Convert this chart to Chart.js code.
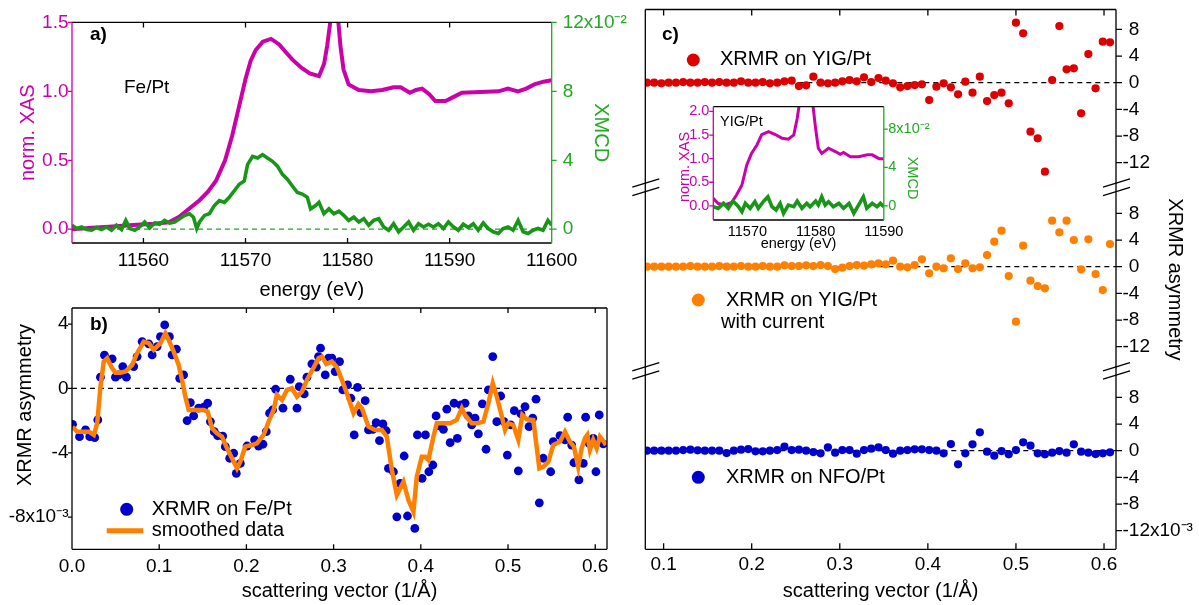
<!DOCTYPE html>
<html>
<head>
<meta charset="utf-8">
<script src="https://cdn.jsdelivr.net/npm/chart.js@4.4.1/dist/chart.umd.min.js"></script>
<style>
  html, body { margin: 0; padding: 0; background: #fff; }
  #wrap { position: relative; width: 1199px; height: 605px; overflow: hidden; }
  #wrap canvas { position: absolute; left: 0; top: 0; }
</style>
</head>
<body>
<div id="wrap">
  <canvas id="chartA" width="1199" height="605"></canvas>
  <canvas id="chartB" width="1199" height="605"></canvas>
  <canvas id="chartC" width="1199" height="605"></canvas>
  <canvas id="chartInset" width="1199" height="605"></canvas>
</div>
<script>
// ---- panel a: Fe/Pt XAS (norm.) and XMCD (x10^-2) ----
const xasEnergy = [11553, 11555, 11557, 11559, 11561, 11562.5, 11563.5, 11564.5, 11565.5, 11566.3, 11567.1, 11568, 11568.7, 11569.4, 11570, 11570.5, 11571, 11571.7, 11572.5, 11573.3, 11574, 11574.6, 11575.5, 11576.3, 11577.2, 11577.7, 11578, 11578.3, 11578.7, 11579.1, 11579.3, 11579.6, 11580.1, 11581.1, 11582.3, 11583.4, 11584.5, 11585.2, 11586.1, 11586.7, 11587.3, 11588, 11588.6, 11589.6, 11590.4, 11591.2, 11593, 11594.8, 11595.7, 11596.7, 11597.5, 11598.3, 11599.2, 11600];
const xasFe = [0, 0.01, 0.02, 0.03, 0.04, 0.05, 0.09, 0.15, 0.21, 0.27, 0.35, 0.5, 0.68, 0.9, 1.09, 1.22, 1.3, 1.36, 1.38, 1.34, 1.28, 1.23, 1.17, 1.13, 1.11, 1.2, 1.33, 1.5, 2.4, 1.5, 1.33, 1.16, 1.05, 1.01, 1, 1.01, 1.03, 1.03, 0.99, 1.01, 1.02, 0.98, 0.93, 0.93, 0.96, 0.99, 0.995, 1, 1.02, 1, 1.02, 1.05, 1.07, 1.08];
const xmcdEnergy = [11553, 11553.46, 11553.95, 11554.43, 11554.92, 11555.41, 11555.9, 11556.38, 11556.87, 11557.36, 11557.85, 11558.27, 11558.66, 11559.15, 11559.63, 11560.12, 11560.61, 11561.1, 11561.59, 11562.07, 11562.56, 11563.05, 11563.54, 11564.02, 11564.51, 11564.9, 11565.22, 11565.49, 11565.98, 11566.46, 11566.95, 11567.44, 11567.93, 11568.41, 11568.9, 11569.39, 11569.88, 11570.2, 11570.69, 11571.18, 11571.67, 11572.15, 11572.64, 11573.13, 11573.62, 11574.1, 11574.59, 11575.08, 11575.57, 11576.06, 11576.38, 11576.87, 11577.2, 11577.68, 11578.17, 11578.66, 11579.15, 11579.63, 11580.12, 11580.61, 11581.1, 11581.59, 11582.07, 11582.56, 11583.05, 11583.54, 11584.02, 11584.51, 11585, 11585.49, 11585.98, 11586.46, 11586.95, 11587.44, 11587.93, 11588.41, 11588.9, 11589.39, 11589.88, 11590.37, 11590.85, 11591.34, 11591.83, 11592.32, 11592.8, 11593.29, 11593.78, 11594.27, 11594.76, 11595.24, 11595.73, 11596.22, 11596.71, 11597.2, 11597.68, 11598.17, 11598.66, 11599.15, 11599.63, 11600];
const xmcdFe = [0.23, 0.04, 0.13, -0.02, -0.06, 0.1, -0.02, 0.13, -0.06, 0.23, -0.02, 0.51, 0.04, -0.06, 0.13, 0.42, 0.08, 0.36, 0.29, 0.51, 0.36, 0.42, 0.61, 0.8, 0.9, 0.7, 0.04, 0.42, 0.8, 0.9, 1.37, 1.66, 1.56, 1.85, 2.23, 2.61, 2.8, 3.75, 4.23, 4.13, 4.33, 4.13, 3.94, 3.66, 3.18, 2.9, 2.51, 2.13, 2.04, 1.85, 1.18, 1.37, 1.56, 0.9, 1.18, 0.9, 1.05, 0.8, 0.51, 0.7, 0.42, 0.61, 0.23, 0.51, 0.61, 0.13, -0.06, 0.32, -0.15, 0.13, 0.42, -0.06, 0.32, 0.13, 0.29, 0.13, 0.32, 0.04, 0.42, 0.13, -0.06, 0.29, 0.1, 0.32, -0.06, 0.36, 0.04, -0.15, -0.25, 0.04, 0.13, -0.06, 0.51, -0.15, -0.25, -0.06, 0.04, -0.06, 0.51, 0.23];

// ---- panel b: XRMR asymmetry on Fe/Pt (x10^-3) ----
const feQ = [0.0006, 0.0086, 0.0155, 0.0204, 0.026, 0.0296, 0.0326, 0.0372, 0.046, 0.0498, 0.0536, 0.0582, 0.0624, 0.0708, 0.0747, 0.0804, 0.088, 0.0919, 0.0976, 0.1014, 0.1063, 0.1117, 0.1148, 0.1197, 0.1235, 0.128, 0.132, 0.1357, 0.1395, 0.1452, 0.151, 0.1556, 0.1587, 0.1632, 0.167, 0.1728, 0.1758, 0.1808, 0.1854, 0.1884, 0.193, 0.2007, 0.2094, 0.214, 0.219, 0.2228, 0.2266, 0.23, 0.2335, 0.2419, 0.2503, 0.258, 0.2606, 0.2663, 0.2694, 0.2751, 0.2801, 0.2827, 0.285, 0.2904, 0.2942, 0.298, 0.3018, 0.3068, 0.3106, 0.316, 0.3198, 0.3236, 0.3274, 0.3313, 0.3362, 0.34, 0.345, 0.3488, 0.3526, 0.3565, 0.3603, 0.3629, 0.3686, 0.3725, 0.3763, 0.3809, 0.3847, 0.3931, 0.3961, 0.4015, 0.4053, 0.4092, 0.4138, 0.4175, 0.4213, 0.4259, 0.4298, 0.4336, 0.4381, 0.4419, 0.4458, 0.4507, 0.4545, 0.4584, 0.4622, 0.466, 0.4706, 0.4748, 0.4775, 0.4825, 0.4871, 0.4916, 0.4954, 0.4992, 0.5031, 0.5072, 0.5118, 0.5149, 0.5195, 0.5241, 0.5283, 0.5321, 0.5359, 0.5404, 0.5489, 0.5519, 0.5596, 0.5653, 0.5684, 0.573, 0.5756, 0.5813, 0.5863, 0.589, 0.5931, 0.5977, 0.6008, 0.6046, 0.6092];
const feAsym = [-2.23, -3, -2.58, -3, -3.06, -1.96, 0.7, 2.07, 1.84, 0.7, 0.84, 1.36, 0.7, 1.36, 1.98, 2.91, 2.77, 2.08, 2.6, 3.22, 3.95, 3.22, 2.08, 2.44, 0.63, 0.84, -2, -0.88, -1.71, -1.23, -1.17, -0.92, -2.06, -2.69, -2.94, -2.96, -3.62, -4.34, -4.03, -5.28, -4.66, -3.58, -3.2, -3.58, -3.47, -2.69, -1.54, -1.34, -0.05, -1.23, 0.57, -1.23, 0.11, -0.34, 0.7, 1.52, 1.32, 1.98, 2.5, 0.84, 1.88, 1.88, 1.05, 1.67, -0.09, 0.22, -0.61, -2.89, 0.07, -1.5, -0.76, -2.58, -2.54, -2.13, -3.25, -2.21, -2.63, -4.97, -5.18, -7.98, -5.9, -4.2, -7.93, -8.7, -2.89, -5.59, -2.89, -5.18, -4.76, -1.71, -2.33, -2.54, -1.29, -3.37, -0.92, -3.1, -1.03, -0.92, -1.71, -2.27, -1.85, -2.83, -0.96, -3.78, -0.09, 1.98, -2.07, -0.47, -2.07, -4.14, -2.27, -1.38, -5.12, -1.59, -1.13, -2.38, -1.85, -0.67, -7.11, -4.34, -5.18, -3.31, -2.94, -3.2, -1.79, -3.52, -4.62, -5.69, -4.66, -1.79, -3.41, -3.1, -5.18, -1.65, -3.45];
const smoothQ = [0.0006, 0.006, 0.0135, 0.0193, 0.025, 0.0289, 0.0326, 0.0364, 0.0403, 0.046, 0.0498, 0.0556, 0.0613, 0.069, 0.0747, 0.0822, 0.088, 0.0937, 0.1014, 0.1071, 0.1109, 0.1166, 0.1223, 0.1262, 0.13, 0.1338, 0.1395, 0.151, 0.1556, 0.1606, 0.1663, 0.172, 0.1778, 0.1835, 0.1892, 0.193, 0.1987, 0.2064, 0.2121, 0.2197, 0.2254, 0.2312, 0.235, 0.2408, 0.2465, 0.2522, 0.258, 0.2637, 0.2694, 0.2751, 0.2827, 0.2866, 0.2915, 0.298, 0.3038, 0.3095, 0.3152, 0.3228, 0.3285, 0.3324, 0.34, 0.3477, 0.3553, 0.361, 0.3668, 0.3725, 0.3801, 0.3858, 0.3915, 0.3954, 0.4011, 0.4049, 0.4087, 0.4144, 0.4183, 0.4259, 0.4336, 0.4412, 0.447, 0.4507, 0.4584, 0.4641, 0.4717, 0.4775, 0.4825, 0.4871, 0.492, 0.4966, 0.5003, 0.5061, 0.5118, 0.5164, 0.5214, 0.529, 0.5359, 0.5404, 0.5462, 0.5519, 0.5596, 0.5653, 0.571, 0.5756, 0.5805, 0.5844, 0.5882, 0.5909, 0.5939, 0.5977, 0.6016, 0.6054, 0.6099, 0.6122];
const smoothAsym = [-2.38, -2.69, -2.69, -2.69, -2.89, -2.17, 0.11, 1.67, 1.88, 1.26, 0.98, 0.98, 1.05, 1.46, 2.19, 2.91, 2.81, 2.4, 2.81, 3.43, 3.02, 2.29, 1.46, 0.53, -0.51, -1.34, -1.34, -1.34, -1.44, -2.48, -2.79, -3, -3.72, -4.34, -4.97, -4.56, -3.62, -3.52, -3.41, -2.89, -2.07, -1.34, -0.4, -0.72, -0.09, 0.01, -0.51, -0.2, 0.53, 1.1, 1.88, 1.98, 1.52, 1.67, 1.32, 0.53, -0.3, -1.54, -0.98, -1.23, -2.38, -2.58, -2.58, -3, -5.07, -6.63, -5.8, -6.94, -7.67, -5.49, -4.24, -4.24, -4.45, -3, -2.17, -2.17, -2.17, -1.96, -1.23, -1.65, -2.17, -2.17, -2.07, -0.92, 0.32, -0.51, -1.54, -2.58, -2.17, -2.27, -3.2, -1.65, -1.92, -1.96, -4.97, -4.87, -4.56, -3.52, -3.31, -2.69, -3.31, -3.62, -4.87, -3.72, -3.1, -2.89, -3.83, -3.2, -3.72, -3, -3.31, -3.52];

// ---- panel c: XRMR asymmetry (x10^-3) on a common q grid ----
const qGrid = [0.0811, 0.0893, 0.0975, 0.1057, 0.114, 0.1222, 0.1304, 0.1386, 0.1468, 0.155, 0.1632, 0.1715, 0.1797, 0.1879, 0.1961, 0.2043, 0.2125, 0.2207, 0.229, 0.2372, 0.2454, 0.2536, 0.2618, 0.27, 0.2782, 0.2865, 0.2947, 0.3029, 0.3111, 0.3193, 0.3275, 0.3357, 0.344, 0.3522, 0.3604, 0.3686, 0.3768, 0.385, 0.3932, 0.4015, 0.4097, 0.4179, 0.4261, 0.4343, 0.4425, 0.4507, 0.459, 0.4672, 0.4754, 0.4836, 0.4918, 0.5, 0.5082, 0.5165, 0.5247, 0.5329, 0.5411, 0.5493, 0.5575, 0.5657, 0.574, 0.5822, 0.5904, 0.5986, 0.6068];
const yigAsym = [0, 0, -0.1, 0, 0, 0.1, 0, 0, 0.1, 0, 0.1, 0, 0, 0.2, 0, 0, 0.1, -0.1, 0, 0.2, 0.3, -0.5, -0.4, 0.9, 0, -0.1, 0, 0.2, 0.4, 0.2, 0.8, 0.1, 0.7, 0.3, -0.1, -0.69, -0.5, -0.35, -0.25, -2.6, -0.6, -0.1, -0.69, -1.74, 0.15, -1.5, 0.9, -2.75, -1.85, -1.5, -3.1, 9, 7.4, -7.35, -8.35, -13.35, 0.4, 8.5, 2, 2.15, -4.6, 4.3, -0.84, 6.15, 6.05];
const yigCurrentAsym = [0, 0, 0, 0, 0, 0, 0.1, 0, 0, 0, 0.1, 0, 0, 0.1, 0, 0, 0.1, 0, 0, 0.2, 0.1, 0.1, 0.2, 0.1, 0.25, 0.1, -0.35, -0.15, 0.1, 0.25, 0.15, 0.35, 0.5, 0.35, 0.9, 0, -0.1, 0.25, 1.1, -1, 0, -0.25, 1.25, -0.35, 0.5, -0.25, -0.1, 1.75, 3.75, 5.4, -1.4, -8.25, 3.15, -2.1, -2.9, -3.25, 6.9, 5.15, 6.9, 4, -0.4, 4.1, -1.1, -3.5, 3.4];
const nfoAsym = [0, 0, 0, 0, 0, 0.1, 0.15, 0.05, 0, 0, 0, -0.35, 0, 0.15, 0.25, -0.1, -0.1, 0, 0.1, 0.6, 0.1, 0.15, 0, -0.2, -0.4, 0.5, -0.3, 0.1, 0.1, -0.45, 0.1, 0.3, 0.5, 0.1, -0.45, 0, 0.1, 0.2, 0.2, 0.1, 0, -0.4, 1, -2.05, -0.4, 0.95, 2.75, -0.15, -0.75, -0.05, -0.55, 0.1, 1.25, 0.75, -0.4, -0.55, -0.3, -0.05, -0.3, 0.95, -0.15, -0.3, -0.5, -0.4, -0.25];

// ---- inset: YIG/Pt XAS and XMCD (x10^-2) ----
const insetXasEnergy = [11565, 11565.7, 11566.7, 11567.7, 11568.4, 11569.2, 11569.9, 11570.6, 11571.4, 11572.1, 11573.1, 11574.1, 11575.1, 11576, 11576.8, 11577.3, 11577.6, 11578.6, 11579.6, 11580, 11580.4, 11580.9, 11581.9, 11582.9, 11583.6, 11584.1, 11585.1, 11586.3, 11587.6, 11588.3, 11589.3, 11590];
const insetXas = [0.16, 0.05, 0.02, 0.07, 0.23, 0.44, 0.86, 1.11, 1.29, 1.51, 1.57, 1.51, 1.43, 1.41, 1.5, 1.85, 2.14, 3.2, 2.14, 1.64, 1.22, 1.11, 1.22, 1.15, 1.09, 1.13, 1.04, 1.04, 1.08, 1.08, 1, 1];
const insetXmcdEnergy = [11565, 11565.7, 11566.5, 11567.2, 11567.9, 11568.7, 11569.2, 11569.7, 11570.4, 11571.1, 11571.6, 11572.4, 11573, 11573.6, 11574.2, 11574.8, 11575.3, 11576, 11576.8, 11577.3, 11578, 11578.7, 11579.2, 11580, 11580.4, 11580.9, 11581.4, 11581.9, 11582.6, 11583.4, 11584.1, 11584.9, 11585.6, 11586.3, 11587, 11587.5, 11588.3, 11589, 11589.5, 11590];
const insetXmcd = [-0.09, -0.26, 0.26, -0.26, 0.5, -0.09, -0.61, 0.26, -0.26, 0.43, -0.26, 0.5, 0.95, -0.09, -0.43, 0.26, -0.78, 0.08, -0.09, 0.5, -0.26, 0.26, -0.09, 0.5, 0.08, 0.95, 0.08, 0.43, -0.09, 0.26, -0.26, 0.26, -0.78, 0.08, 0.95, -0.26, 0.26, -0.09, 0.26, -0.09];

// ---- tick values ----
const aEnergyTicks = [11560, 11570, 11580, 11590, 11600];
const aXasTicks = [0, 0.5, 1, 1.5];
const aXmcdTicks = [0, 4, 8, 12];
const qTicks = [0, 0.1, 0.2, 0.3, 0.4, 0.5, 0.6];
const bAsymTicks = [4, 0, -4, -8];
const cAsymTicks = [8, 4, 0, -4, -8, -12];
const insetEnergyTicks = [11570, 11580, 11590];
const insetXasTicks = [0, 0.5, 1, 1.5, 2];
const insetXmcdTicks = [0, 4, 8];

const FONT = "'Liberation Sans', Arial, Helvetica, sans-serif";
const MAGENTA = '#cc00aa';
const GREEN_LINE = '#179617';
const GREEN_TEXT = '#22a822';
const RED = '#dd0000';
const ORANGE = '#ff8000';
const BLUE = '#0000cc';

// panel c: the three traces sit on one axis, shifted apart (x10^-3)
const MID_SHIFT = 27.6;
const TOP_SHIFT = 55.2;

Chart.defaults.font.family = FONT;
Chart.defaults.color = '#000';

const xy = (xs, ys, shift = 0) => xs.map((x, i) => ({ x, y: ys[i] + shift }));
const fixedSize = size => scale => {
  if (scale.isHorizontal()) scale.height = size; else scale.width = size;
};
const useTicks = values => scale => { scale.ticks = values.map(value => ({ value })); };
const font = size => ({ family: FONT, size });
const noGrid = { display: false, drawTicks: false };

// frame, tick marks, dashed zero lines, legends and notes drawn on the canvas
function decoPlugin(cfg) {
  return {
    id: 'deco',
    beforeDatasetsDraw(chart) {
      const { ctx, chartArea: area } = chart;
      ctx.save();
      for (const z of cfg.zeroLines || []) {
        const y = chart.scales[z.scale].getPixelForValue(z.value);
        ctx.strokeStyle = z.color;
        ctx.lineWidth = 1.2;
        ctx.setLineDash([5, 4]);
        ctx.beginPath();
        ctx.moveTo(area.left, y);
        ctx.lineTo(area.right, y);
        ctx.stroke();
      }
      ctx.restore();
    },
    afterDraw(chart) {
      const { ctx, chartArea: area } = chart;
      ctx.save();
      ctx.setLineDash([]);
      for (const s of cfg.sides || []) {
        const vertical = s.edge === 'left' || s.edge === 'right';
        const at = area[s.edge];
        const inward = { top: 1, bottom: -1, left: 1, right: -1 }[s.edge];
        const sign = s.out ? -inward : inward;
        ctx.strokeStyle = s.color;
        ctx.lineWidth = 1.3;
        ctx.beginPath();
        if (vertical) { ctx.moveTo(at, area.top); ctx.lineTo(at, area.bottom); }
        else { ctx.moveTo(area.left, at); ctx.lineTo(area.right, at); }
        for (const v of s.ticks || []) {
          const p = chart.scales[s.scale].getPixelForValue(v);
          if (vertical) { ctx.moveTo(at, p); ctx.lineTo(at + sign * s.len, p); }
          else { ctx.moveTo(p, at); ctx.lineTo(p, at + sign * s.len); }
        }
        ctx.stroke();
      }
      for (const b of cfg.breaks || []) {
        const y = chart.scales[b.scale].getPixelForValue(b.value);
        const x = area[b.edge];
        ctx.strokeStyle = '#000';
        ctx.lineWidth = 1.3;
        ctx.beginPath();
        for (const o of [-4.2, 4.2]) {
          ctx.moveTo(x - 13, y + o + 4);
          ctx.lineTo(x + 14, y + o - 4.3);
        }
        ctx.stroke();
      }
      for (const m of cfg.markers || []) {
        ctx.fillStyle = m.color;
        ctx.strokeStyle = m.color;
        ctx.beginPath();
        if (m.r) {
          ctx.arc(m.x, m.y, m.r, 0, Math.PI * 2);
          ctx.fill();
        } else {
          ctx.lineWidth = m.w;
          ctx.moveTo(m.x1, m.y);
          ctx.lineTo(m.x2, m.y);
          ctx.stroke();
        }
      }
      ctx.textBaseline = 'middle';
      for (const t of cfg.texts || []) {
        ctx.save();
        ctx.font = t.font;
        ctx.fillStyle = t.color || '#000';
        ctx.textAlign = t.align || 'left';
        ctx.translate(t.x, t.y);
        if (t.rot) ctx.rotate(t.rot);
        ctx.fillText(t.text, 0, 0);
        ctx.restore();
      }
      // right-hand labels of panel c: numbers line up as if every one had a minus sign
      for (const l of cfg.axisLabels || []) {
        const y = chart.scales[l.scale].getPixelForValue(l.value);
        ctx.font = l.font;
        ctx.fillStyle = '#000';
        ctx.textAlign = 'left';
        const shift = l.text.startsWith('-') ? 0 : ctx.measureText('-').width;
        ctx.fillText(l.text, l.x + shift, y);
      }
      ctx.restore();
    }
  };
}

const baseOptions = padding => ({
  responsive: false,
  animation: false,
  events: [],
  layout: { padding },
  plugins: { legend: { display: false }, tooltip: { enabled: false } },
});

// ---------------- panel a ----------------
new Chart(document.getElementById('chartA'), {
  type: 'scatter',
  data: {
    datasets: [
      { data: xy(xmcdEnergy, xmcdFe), yAxisID: 'y2', showLine: true, borderColor: GREEN_LINE, borderWidth: 3.6, pointRadius: 0 },
      { data: xy(xasEnergy, xasFe), yAxisID: 'y', showLine: true, borderColor: MAGENTA, borderWidth: 4, pointRadius: 0, clip: 0 },
    ],
  },
  options: {
    ...baseOptions({ left: 0, top: 18, right: 557.3, bottom: 300 }),
    scales: {
      x: {
        type: 'linear', min: 11553, max: 11600,
        afterFit: fixedSize(62), afterBuildTicks: useTicks(aEnergyTicks),
        grid: noGrid, border: { display: false },
        ticks: { padding: 6, autoSkip: false, maxRotation: 0, font: font(19), color: '#000', callback: v => String(v) },
        title: { display: true, text: 'energy (eV)', font: font(20), color: '#000', padding: { top: 0, bottom: 3 } },
      },
      y: {
        type: 'linear', position: 'left', min: -0.1, max: 1.5,
        afterFit: fixedSize(72), afterBuildTicks: useTicks(aXasTicks),
        grid: noGrid, border: { display: false },
        ticks: { padding: 3.5, font: font(19), color: MAGENTA, callback: v => v.toFixed(1) },
        title: { display: true, text: 'norm. XAS', font: font(20), color: MAGENTA, padding: { top: 16, bottom: 0 } },
      },
      y2: {
        type: 'linear', position: 'right', min: -0.8, max: 12,
        afterFit: fixedSize(90), afterBuildTicks: useTicks(aXmcdTicks),
        grid: noGrid, border: { display: false },
        ticks: { padding: 11, font: font(19), color: GREEN_TEXT, callback: v => (v === 12 ? '12x10⁻²' : String(v)) },
        title: { display: true, text: 'XMCD', font: font(20), color: GREEN_TEXT, padding: { top: 29, bottom: 0 } },
      },
    },
  },
  plugins: [decoPlugin({
    zeroLines: [{ scale: 'y2', value: 0, color: GREEN_TEXT }],
    sides: [
      { edge: 'top', color: '#000', scale: 'x', ticks: [11560, 11570, 11580, 11590], len: 5 },
      { edge: 'bottom', color: '#000', scale: 'x', ticks: [11560, 11570, 11580, 11590], len: 5 },
      { edge: 'left', color: MAGENTA, scale: 'y', ticks: aXasTicks, len: 4, out: true },
      { edge: 'right', color: GREEN_TEXT, scale: 'y2', ticks: aXmcdTicks, len: 5, out: true },
    ],
    texts: [
      { text: 'a)', x: 90, y: 35, font: `bold 19px ${FONT}` },
      { text: 'Fe/Pt', x: 124, y: 88, font: `19px ${FONT}` },
    ],
  })],
});

// ---------------- panel b ----------------
new Chart(document.getElementById('chartB'), {
  type: 'scatter',
  data: {
    datasets: [
      { data: xy(smoothQ, smoothAsym), showLine: true, borderColor: ORANGE, borderWidth: 4.5, pointRadius: 0 },
      { data: xy(feQ, feAsym), backgroundColor: BLUE, borderColor: BLUE, pointRadius: 4.4, pointBorderWidth: 0 },
    ],
  },
  options: {
    ...baseOptions({ left: 0, top: 308, right: 592, bottom: 0 }),
    scales: {
      x: {
        type: 'linear', min: 0, max: 0.6135,
        afterFit: fixedSize(55.7), afterBuildTicks: useTicks(qTicks),
        grid: noGrid, border: { display: false },
        ticks: { padding: 6, autoSkip: false, maxRotation: 0, font: font(19), color: '#000', callback: v => v.toFixed(1) },
        title: { display: true, text: 'scattering vector (1/Å)', font: font(20), color: '#000', padding: { top: 0, bottom: 2 } },
      },
      y: {
        type: 'linear', position: 'left', min: -10, max: 5,
        afterFit: fixedSize(72), afterBuildTicks: useTicks(bAsymTicks),
        grid: noGrid, border: { display: false },
        ticks: { padding: 3.5, font: font(19), color: '#000', callback: v => (v === -8 ? '-8x10⁻³' : String(v)) },
      },
    },
  },
  plugins: [decoPlugin({
    zeroLines: [{ scale: 'y', value: 0, color: '#000' }],
    sides: [
      { edge: 'top', color: '#000', scale: 'x', ticks: [0.1, 0.2, 0.3, 0.4, 0.5, 0.6], len: 5 },
      { edge: 'bottom', color: '#000', scale: 'x', ticks: [0.1, 0.2, 0.3, 0.4, 0.5, 0.6], len: 5 },
      { edge: 'left', color: '#000', scale: 'y', ticks: bAsymTicks, len: 4, out: true },
      { edge: 'right', color: '#000' },
    ],
    markers: [
      { x: 126.7, y: 509.3, r: 6.5, color: BLUE },
      { x1: 106.7, x2: 143.3, y: 530.7, w: 5, color: ORANGE },
    ],
    texts: [
      { text: 'b)', x: 90, y: 325, font: `bold 19px ${FONT}` },
      { text: 'XRMR asymmetry', x: 25, y: 405, rot: -Math.PI / 2, align: 'center', font: `20px ${FONT}` },
      { text: 'XRMR on Fe/Pt', x: 151.7, y: 509.3, font: `20px ${FONT}` },
      { text: 'smoothed data', x: 151.7, y: 530.7, font: `20px ${FONT}` },
    ],
  })],
});

// ---------------- panel c ----------------
const cShifts = [TOP_SHIFT, MID_SHIFT, 0];
const cLabels = [];
const cTickPositions = [];
cShifts.forEach((shift, seg) => {
  cAsymTicks.forEach(v => {
    cTickPositions.push(v + shift);
    const text = seg === 2 && v === -12 ? '-12x10⁻³' : String(v);
    cLabels.push({ scale: 'y', value: v + shift, text, x: 1122.5, font: `19px ${FONT}` });
  });
});

new Chart(document.getElementById('chartC'), {
  type: 'scatter',
  data: {
    datasets: [
      { data: xy(qGrid, yigAsym, TOP_SHIFT), backgroundColor: RED, borderColor: RED, pointRadius: 4.1, pointBorderWidth: 0 },
      { data: xy(qGrid, yigCurrentAsym, MID_SHIFT), backgroundColor: ORANGE, borderColor: ORANGE, pointRadius: 4.1, pointBorderWidth: 0 },
      { data: xy(qGrid, nfoAsym), backgroundColor: BLUE, borderColor: BLUE, pointRadius: 4.1, pointBorderWidth: 0 },
    ],
  },
  options: {
    ...baseOptions({ left: 645.3, top: 9.5, right: 0, bottom: 0 }),
    scales: {
      x: {
        type: 'linear', min: 0.0792, max: 0.6136,
        afterFit: fixedSize(55.7), afterBuildTicks: useTicks([0.1, 0.2, 0.3, 0.4, 0.5, 0.6]),
        grid: noGrid, border: { display: false },
        ticks: { padding: 4.5, autoSkip: false, maxRotation: 0, font: font(19), color: '#000', callback: v => v.toFixed(1) },
        title: { display: true, text: 'scattering vector (1/Å)', font: font(20), color: '#000', padding: { top: 0, bottom: 2 } },
      },
      y: {
        type: 'linear', position: 'right', min: -14.79, max: 66.18,
        afterFit: fixedSize(83),
        grid: noGrid, border: { display: false },
        ticks: { display: false },
        title: { display: true, text: 'XRMR asymmetry', font: font(20), color: '#000', padding: { top: 12, bottom: 0 } },
      },
    },
  },
  plugins: [decoPlugin({
    zeroLines: [
      { scale: 'y', value: TOP_SHIFT, color: '#000' },
      { scale: 'y', value: MID_SHIFT, color: '#000' },
      { scale: 'y', value: 0, color: '#000' },
    ],
    sides: [
      { edge: 'top', color: '#000', scale: 'x', ticks: [0.1, 0.2, 0.3, 0.4, 0.5, 0.6], len: 6 },
      { edge: 'bottom', color: '#000', scale: 'x', ticks: [0.1, 0.2, 0.3, 0.4, 0.5, 0.6], len: 6 },
      { edge: 'left', color: '#000' },
      { edge: 'right', color: '#000', scale: 'y', ticks: cTickPositions, len: 6, out: true },
    ],
    breaks: [
      { scale: 'y', value: 39.5, edge: 'left' },
      { scale: 'y', value: 11.95, edge: 'left' },
      { scale: 'y', value: 39.5, edge: 'right' },
      { scale: 'y', value: 11.95, edge: 'right' },
    ],
    markers: [
      { x: 693.3, y: 60, r: 6.5, color: RED },
      { x: 698.3, y: 300, r: 6.5, color: ORANGE },
      { x: 698.3, y: 477.3, r: 6.5, color: BLUE },
    ],
    texts: [
      { text: 'c)', x: 662, y: 35, font: `bold 19px ${FONT}` },
      { text: 'XRMR on YIG/Pt', x: 720, y: 59, font: `20px ${FONT}` },
      { text: 'XRMR on YIG/Pt', x: 726, y: 300, font: `20px ${FONT}` },
      { text: 'with current', x: 721, y: 322.3, font: `20px ${FONT}` },
      { text: 'XRMR on NFO/Pt', x: 726, y: 477, font: `20px ${FONT}` },
    ],
    axisLabels: cLabels,
  })],
});

// ---------------- inset in panel c ----------------
new Chart(document.getElementById('chartInset'), {
  type: 'scatter',
  data: {
    datasets: [
      { data: xy(insetXmcdEnergy, insetXmcd), yAxisID: 'y2', showLine: true, borderColor: GREEN_LINE, borderWidth: 3.6, pointRadius: 0 },
      { data: xy(insetXasEnergy, insetXas), yAxisID: 'y', showLine: true, borderColor: MAGENTA, borderWidth: 3, pointRadius: 0, clip: 0 },
    ],
  },
  options: {
    ...baseOptions({ left: 665, top: 106.7, right: 259, bottom: 352 }),
    scales: {
      x: {
        type: 'linear', min: 11565, max: 11590,
        afterFit: fixedSize(33), afterBuildTicks: useTicks(insetEnergyTicks),
        grid: noGrid, border: { display: false },
        ticks: { padding: 3, autoSkip: false, maxRotation: 0, font: font(14.5), color: '#000', callback: v => String(v) },
        title: { display: true, text: 'energy (eV)', font: font(14.5), color: '#000', padding: { top: 0, bottom: 0 } },
      },
      y: {
        type: 'linear', position: 'left', min: -0.3, max: 2.1,
        afterFit: fixedSize(48.3), afterBuildTicks: useTicks(insetXasTicks),
        grid: noGrid, border: { display: false },
        ticks: { padding: 4, font: font(14.5), color: MAGENTA, callback: v => v.toFixed(1) },
      },
      y2: {
        type: 'linear', position: 'right', min: -1.475, max: 10.33,
        afterFit: fixedSize(56.2), afterBuildTicks: useTicks(insetXmcdTicks),
        grid: noGrid, border: { display: false },
        ticks: { padding: 4.5, font: font(14.5), color: GREEN_TEXT, callback: v => (v === 8 ? '8x10⁻²' : String(v)) },
      },
    },
  },
  plugins: [decoPlugin({
    sides: [
      { edge: 'top', color: '#000' },
      { edge: 'bottom', color: '#000' },
      { edge: 'left', color: MAGENTA, scale: 'y', ticks: insetXasTicks, len: 4, out: true },
      { edge: 'right', color: GREEN_TEXT, scale: 'y2', ticks: insetXmcdTicks, len: 4, out: true },
    ],
    texts: [
      { text: 'YIG/Pt', x: 720, y: 121.7, font: `14.5px ${FONT}` },
      { text: 'norm. XAS', x: 685, y: 167, rot: -Math.PI / 2, align: 'center', color: MAGENTA, font: `14.5px ${FONT}` },
      { text: 'XMCD', x: 912, y: 178, rot: Math.PI / 2, align: 'center', color: GREEN_TEXT, font: `14.5px ${FONT}` },
    ],
  })],
});
</script>
</body>
</html>
